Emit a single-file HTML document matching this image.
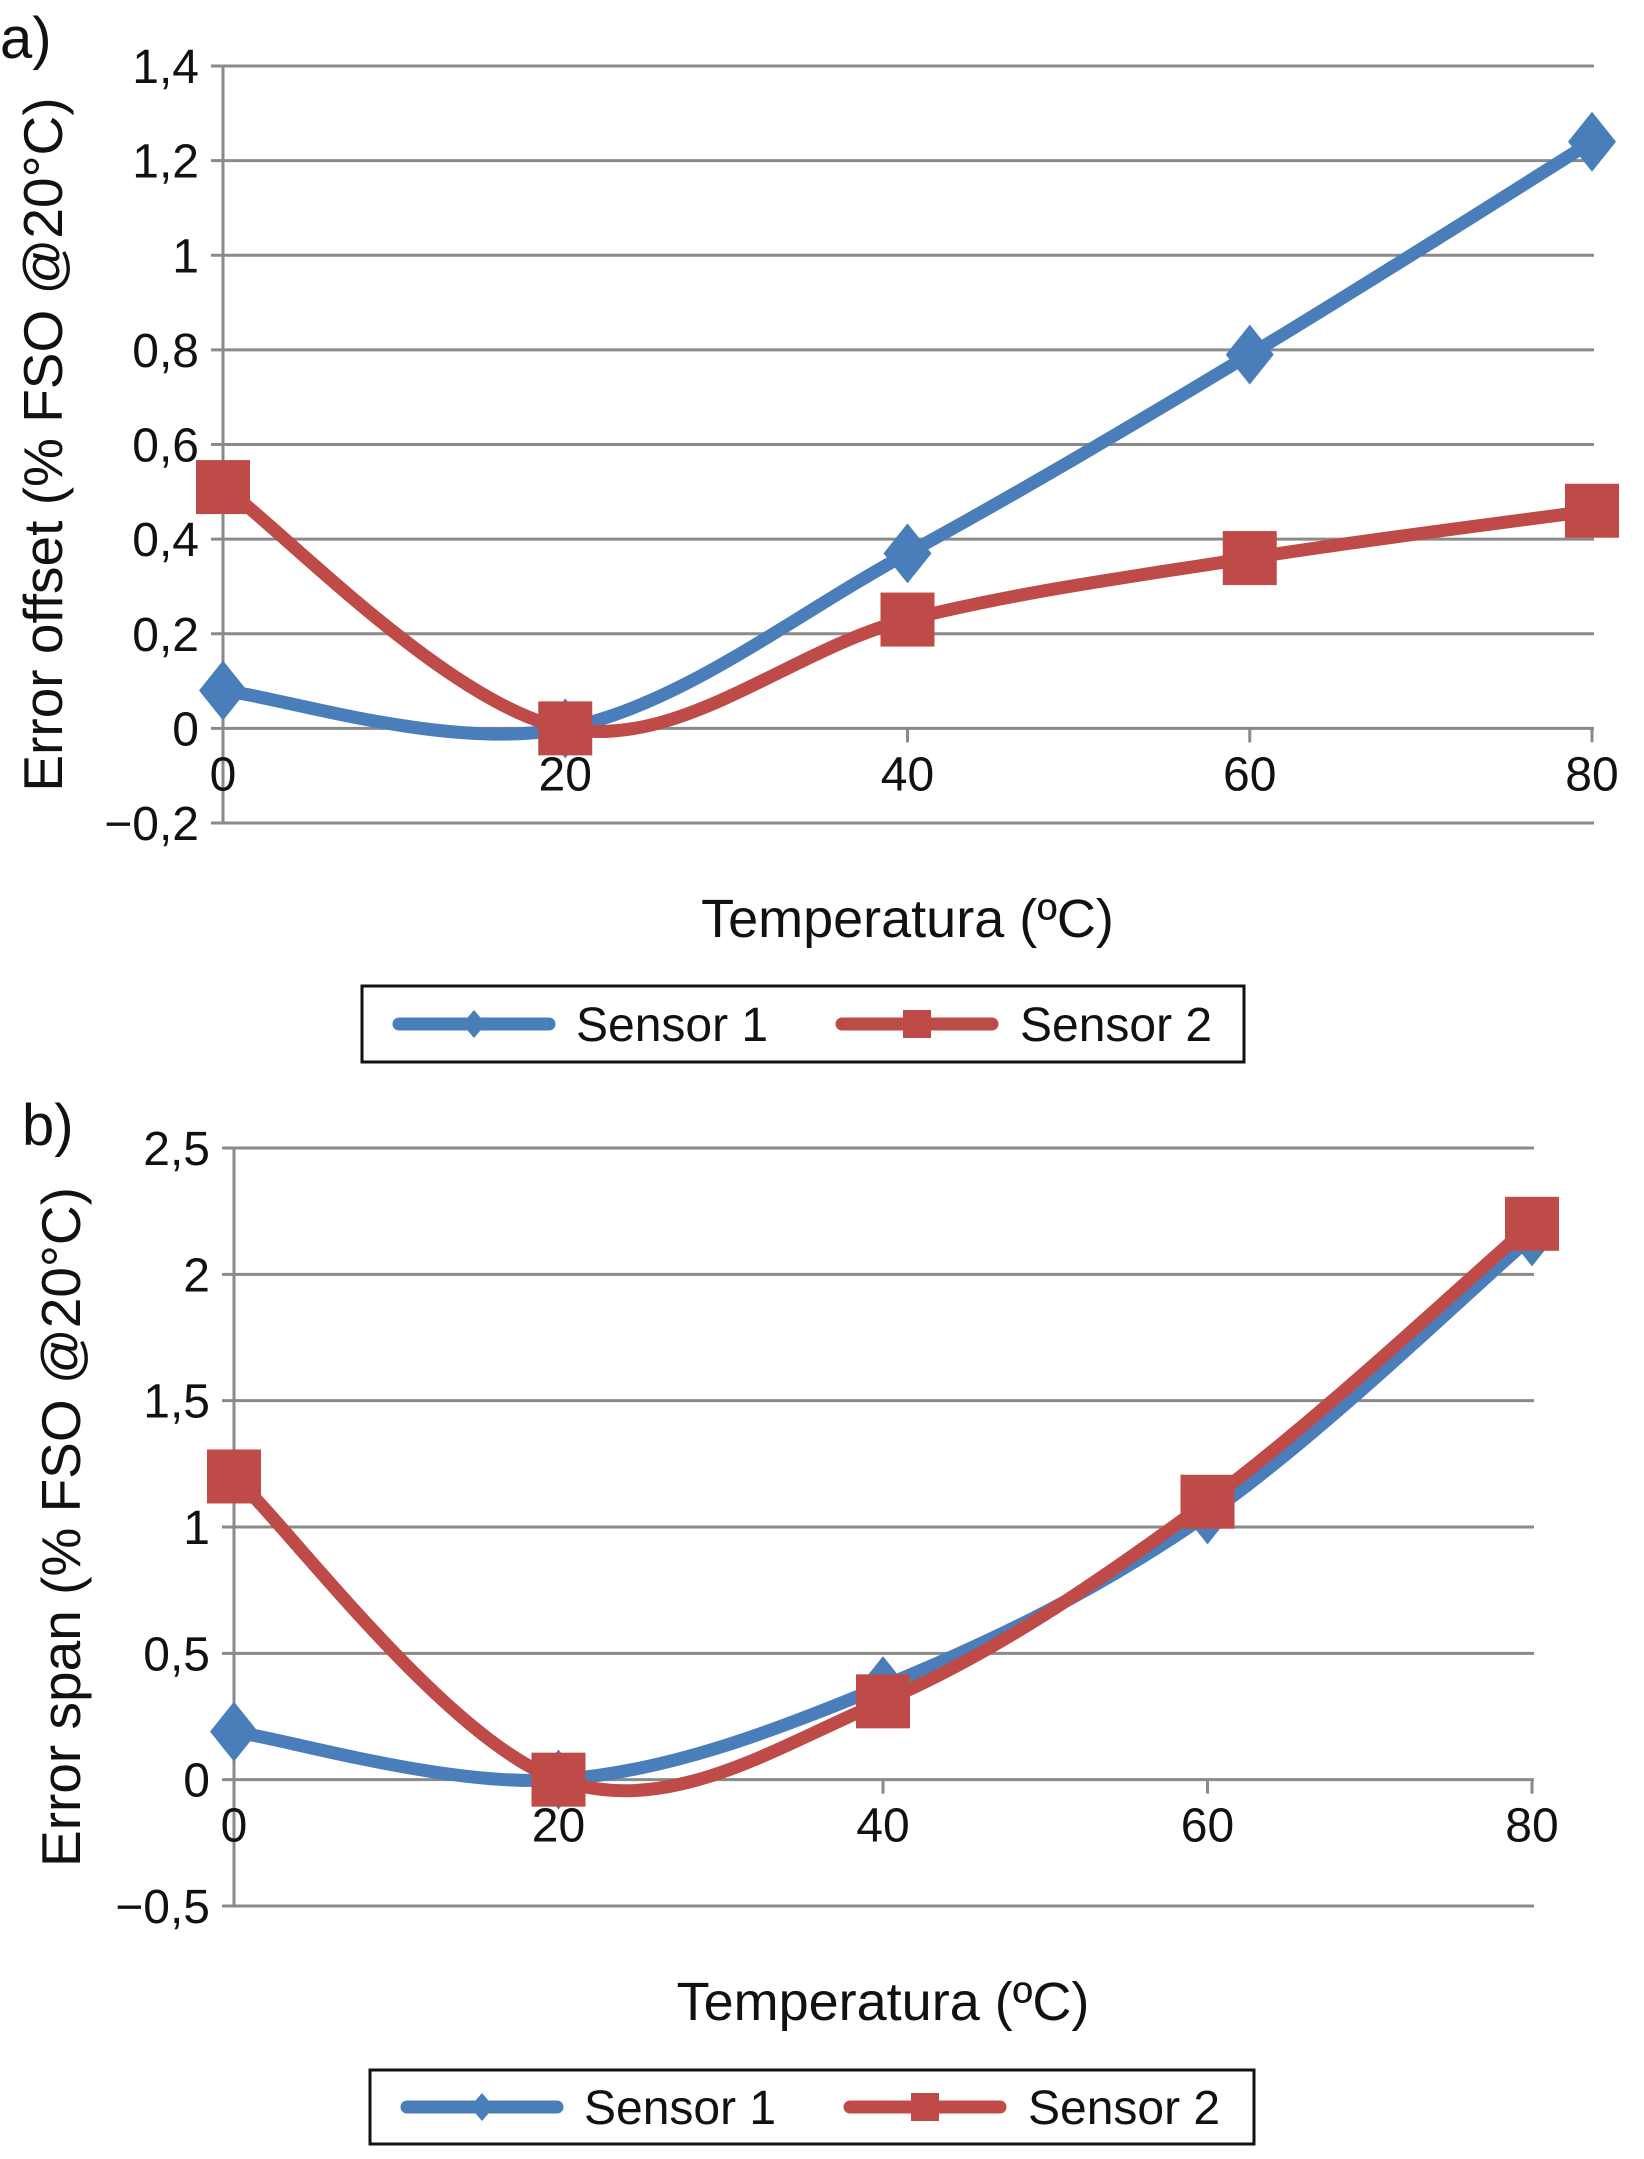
<!DOCTYPE html>
<html><head><meta charset="utf-8"><style>
html,body{margin:0;padding:0;background:#fff;}
svg{display:block;}
text{font-family:"Liberation Sans Narrow","Liberation Sans",sans-serif;fill:#111;}
.yt{font-family:"Liberation Sans",sans-serif;}
</style></head><body>
<svg id="c" width="1644" height="2159" viewBox="0 0 1644 2159" xmlns="http://www.w3.org/2000/svg"></svg>
<script>
const xCategories=[0,20,40,60,80];
const aSensor1=[0.08,0,0.37,0.79,1.24];
const aSensor2=[0.51,0,0.23,0.36,0.46];
const aTicks=[-0.2,0,0.2,0.4,0.6,0.8,1,1.2,1.4];
const aTickLabels=["\u22120,2","0","0,2","0,4","0,6","0,8","1","1,2","1,4"];
const bSensor1=[0.19,0,0.37,1.05,2.15];
const bSensor2=[1.2,0,0.31,1.1,2.2];
const bTicks=[-0.5,0,0.5,1,1.5,2,2.5];
const bTickLabels=["\u22120,5","0","0,5","1","1,5","2","2,5"];

const svg=document.getElementById('c');
const NS='http://www.w3.org/2000/svg';
function mk(tag,attrs,parent){const e=document.createElementNS(NS,tag);for(const k in attrs)e.setAttribute(k,attrs[k]);(parent||svg).appendChild(e);return e;}
function smooth(pts){let d='M'+pts[0][0]+','+pts[0][1];for(let i=0;i<pts.length-1;i++){const p0=pts[i-1]||pts[i],p1=pts[i],p2=pts[i+1],p3=pts[i+2]||p2;const t=0.17;const c1=[p1[0]+(p2[0]-p0[0])*t,p1[1]+(p2[1]-p0[1])*t];const c2=[p2[0]-(p3[0]-p1[0])*t,p2[1]-(p3[1]-p1[1])*t];d+=' C'+c1+' '+c2+' '+p2;}return d;}
function chart(o){
  const g=mk('g',{});
  
  
  const xs=v=>o.x0+(v-xCategories[0])/(xCategories[xCategories.length-1]-xCategories[0])*(o.x1-o.x0);
  const ys=v=>o.yTop+(o.ticks[o.ticks.length-1]-v)/(o.ticks[o.ticks.length-1]-o.ticks[0])*(o.yBot-o.yTop);
  const lbl=mk('text',{x:o.lx,y:o.ly,'font-size':58},g);lbl.textContent=o.letter;
  
  o.ticks.forEach((t,i)=>{const y=ys(t);const l=mk('line',{x1:o.x0-12,x2:o.x1+2,y1:y,y2:y,stroke:'#8a8a8a','stroke-width':3},g);
    
    const tx=mk('text',{x:o.x0-24,y:y+17,'font-size':48,'text-anchor':'end'},g);tx.textContent=o.tickLabels[i];
    });
  const ax=mk('line',{x1:o.x0,x2:o.x0,y1:o.yTop,y2:o.yBot,stroke:'#8a8a8a','stroke-width':3},g);
  
  const y0=ys(0);
  xCategories.forEach(c=>{const x=xs(c);if(c>0){const tk=mk('line',{x1:x,x2:x,y1:y0,y2:y0+14,stroke:'#8a8a8a','stroke-width':3},g);}
    const t=mk('text',{x:x,y:y0+62,'font-size':48,'text-anchor':'middle'},g);t.textContent=c;
    });
  const xt=mk('text',{x:(o.x0+o.x1)/2,y:o.xtY,'font-size':54,'text-anchor':'middle'},g);xt.textContent='Temperatura (ºC)';
  
  const yt=mk('text',{x:0,y:0,'font-size':55,'text-anchor':'middle','class':'yt',transform:'translate('+o.ytX+','+((o.yTop+o.yBot)/2)+') rotate(-90)'},g);yt.textContent=o.yTitle;
  
  const series=[{v:o.s1,c:'#4a7ebb',m:'d',n:'sensor-1'},{v:o.s2,c:'#be4b48',m:'s',n:'sensor-2'}];
  series.forEach(s=>{const pts=s.v.map((v,i)=>[xs(xCategories[i]),ys(v)]);
    const p=mk('path',{d:smooth(pts),fill:'none',stroke:s.c,'stroke-width':13,'stroke-linejoin':'round'},g);
    
    pts.forEach(pt=>{let m;if(s.m==='d'){m=mk('polygon',{points:[[pt[0],pt[1]-30],[pt[0]+24,pt[1]],[pt[0],pt[1]+30],[pt[0]-24,pt[1]]].join(' '),fill:s.c},g);}
      else{m=mk('rect',{x:pt[0]-27,y:pt[1]-27,width:54,height:54,fill:s.c},g);}
      });});
  const L=o.leg;const lg=mk('g',{},g);
  mk('rect',{x:L.x,y:L.y,width:L.w,height:L.h,fill:'#fff',stroke:'#111','stroke-width':3},lg);
  const cy=L.y+L.h/2;
  const e1=mk('g',{},lg);
  mk('line',{x1:L.x+37,x2:L.x+187,y1:cy,y2:cy,stroke:'#4a7ebb','stroke-width':13,'stroke-linecap':'round'},e1);
  mk('polygon',{points:[[L.x+112,cy-14],[L.x+124,cy],[L.x+112,cy+14],[L.x+100,cy]].join(' '),fill:'#4a7ebb'},e1);
  const t1=mk('text',{x:L.x+214,y:cy+17,'font-size':48},e1);t1.textContent='Sensor 1';
  const e2=mk('g',{},lg);
  mk('line',{x1:L.x+480,x2:L.x+630,y1:cy,y2:cy,stroke:'#be4b48','stroke-width':13,'stroke-linecap':'round'},e2);
  mk('rect',{x:L.x+541,y:cy-14,width:28,height:28,fill:'#be4b48'},e2);
  const t2=mk('text',{x:L.x+658,y:cy+17,'font-size':48},e2);t2.textContent='Sensor 2';
}
chart({name:'chart-a-error-offset',letter:'a)',lx:0,ly:58,x0:223,x1:1592,yTop:66,yBot:823,ticks:aTicks,tickLabels:aTickLabels,s1:aSensor1,s2:aSensor2,xtY:937,ytX:62,yTitle:'Error offset (% FSO @20°C)',leg:{x:362,y:986,w:882,h:76}});
chart({name:'chart-b-error-span',letter:'b)',lx:22,ly:1145,x0:234,x1:1532,yTop:1148,yBot:1906,ticks:bTicks,tickLabels:bTickLabels,s1:bSensor1,s2:bSensor2,xtY:2020,ytX:80,yTitle:'Error span (% FSO @20°C)',leg:{x:370,y:2070,w:884,h:74}});
</script>
</body></html>
